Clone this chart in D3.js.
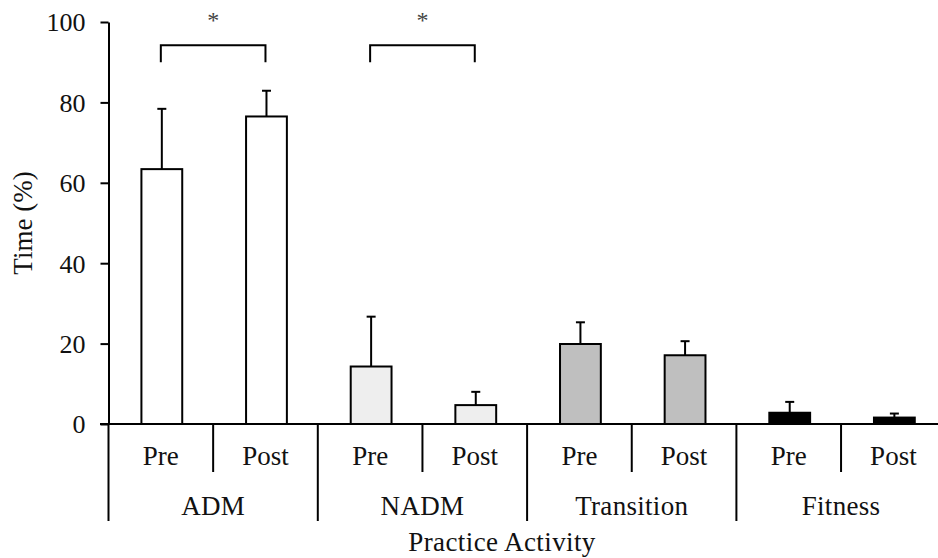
<!DOCTYPE html>
<html>
<head>
<meta charset="utf-8">
<script src="https://cdn.jsdelivr.net/npm/d3@7"></script>
<style>
  body { margin: 0; background: #fff; }
  svg text { font-family: "Liberation Serif", Tinos, "Times New Roman", Times, "DejaVu Serif", serif !important; fill: #111; }
</style>
</head>
<body>
<div id="chart"></div>
<script>
// data
let groups = ["ADM", "NADM", "Transition", "Fitness"];
let phases = ["Pre", "Post"];
let preMeans = [63.4, 14.3, 19.9, 2.8];
let postMeans = [76.5, 4.7, 17.1, 1.6];
let preErr = [15.0, 12.4, 5.4, 2.7];
let postErr = [6.4, 3.3, 3.5, 1.0];
let groupFills = ["#ffffff", "#eeeeee", "#bfbfbf", "#000000"];
let sigGroups = ["ADM", "NADM"];
let yTicks = [0, 20, 40, 60, 80, 100];

let width = 938, height = 558;
let fontSize = 27;

let rows = [];
groups.forEach((g, i) => {
  rows.push({group: g, phase: "Pre", mean: preMeans[i], err: preErr[i], fill: groupFills[i]});
  rows.push({group: g, phase: "Post", mean: postMeans[i], err: postErr[i], fill: groupFills[i]});
});

// scales
let x0 = d3.scaleBand().domain(groups).range([108.5, 945.7]);
let x1 = d3.scaleBand().domain(phases).range([0, x0.bandwidth()]);
let y = d3.scaleLinear().domain([0, 100]).range([424, 22]);
let barW = x1.bandwidth() * 0.39;
let cx = d => x0(d.group) + x1(d.phase) + x1.bandwidth() / 2 + 1;

let svg = d3.select("#chart").append("svg")
  .attr("width", width)
  .attr("height", height);

// bars
svg.append("g").selectAll("rect")
  .data(rows)
  .join("rect")
  .attr("x", d => cx(d) - barW / 2)
  .attr("y", d => y(d.mean))
  .attr("width", barW)
  .attr("height", d => y(0) - y(d.mean))
  .attr("fill", d => d.fill)
  .attr("stroke", "#000")
  .attr("stroke-width", 2);

// error bars (upper only)
let eb = svg.append("g").attr("stroke", "#000").attr("stroke-width", 2);
eb.selectAll("line.v")
  .data(rows)
  .join("line")
  .attr("class", "v")
  .attr("x1", cx).attr("x2", cx)
  .attr("y1", d => y(d.mean)).attr("y2", d => y(d.mean + d.err));
eb.selectAll("line.cap")
  .data(rows)
  .join("line")
  .attr("class", "cap")
  .attr("x1", d => cx(d) - 4.5).attr("x2", d => cx(d) + 4.5)
  .attr("y1", d => y(d.mean + d.err)).attr("y2", d => y(d.mean + d.err));

// baseline
svg.append("line")
  .attr("x1", 100).attr("x2", width)
  .attr("y1", y(0)).attr("y2", y(0))
  .attr("stroke", "#000").attr("stroke-width", 2);

// y axis
let yAxis = d3.axisLeft(y).tickValues(yTicks).tickSize(8).tickSizeOuter(0).tickPadding(15);
let gy = svg.append("g")
  .attr("transform", "translate(" + x0.range()[0] + ",0)")
  .call(yAxis);
gy.select(".domain").attr("stroke-width", 2);
gy.selectAll(".tick line").attr("stroke-width", 2);
gy.selectAll(".tick text")
  .style("font-size", "26px")
  .attr("dy", "0.34em");

// category dividers: short between phases, long between groups
let gx = svg.append("g").attr("stroke", "#000").attr("stroke-width", 2);
gx.selectAll("line.grp")
  .data(groups)
  .join("line")
  .attr("class", "grp")
  .attr("x1", d => x0(d)).attr("x2", d => x0(d))
  .attr("y1", y(0)).attr("y2", 521);
gx.selectAll("line.ph")
  .data(groups)
  .join("line")
  .attr("class", "ph")
  .attr("x1", d => x0(d) + x1("Post")).attr("x2", d => x0(d) + x1("Post"))
  .attr("y1", y(0)).attr("y2", 472);

svg.append("g").selectAll("text")
  .data(rows)
  .join("text")
  .attr("x", d => x0(d.group) + x1(d.phase) + x1.bandwidth() / 2)
  .attr("y", 465)
  .attr("text-anchor", "middle")
  .style("font-size", fontSize + "px")
  .text(d => d.phase);

svg.append("g").selectAll("text")
  .data(groups)
  .join("text")
  .attr("x", d => x0(d) + x0.bandwidth() / 2)
  .attr("y", 515)
  .attr("text-anchor", "middle")
  .style("font-size", fontSize + "px")
  .style("letter-spacing", "0.3px")
  .text(d => d);

// axis titles
svg.append("text")
  .attr("x", 502).attr("y", 551)
  .attr("text-anchor", "middle")
  .style("font-size", fontSize + "px")
  .style("letter-spacing", "0.4px")
  .text("Practice Activity");

svg.append("text")
  .attr("transform", "translate(32," + y(50) + ") rotate(-90)")
  .attr("text-anchor", "middle")
  .style("font-size", fontSize + "px")
  .text("Time (%)");

// significance brackets
let sig = svg.append("g");
sigGroups.forEach(g => {
  let xa = x0(g) + x1("Pre") + x1.bandwidth() / 2;
  let xb = x0(g) + x1("Post") + x1.bandwidth() / 2;
  sig.append("path")
    .attr("d", "M" + xa + "," + y(90) + "V" + y(94.2) + "H" + xb + "V" + y(90))
    .attr("fill", "none")
    .attr("stroke", "#000")
    .attr("stroke-width", 2);
  sig.append("text")
    .attr("x", (xa + xb) / 2).attr("y", y(98.4))
    .attr("text-anchor", "middle")
    .style("font-size", "24px")
    .style("fill", "#444")
    .text("*");
});
</script>
</body>
</html>
